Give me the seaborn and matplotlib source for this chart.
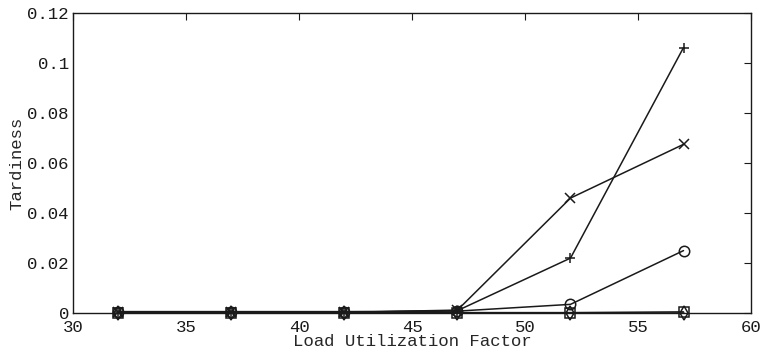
import pandas as pd
import matplotlib
matplotlib.use("Agg")
import matplotlib.pyplot as plt
import seaborn as sns

sns.set_theme(style="white")
plt.rcParams['font.family'] = ['Liberation Mono', 'DejaVu Sans Mono']

# Load utilization factor (x positions)
load = [32, 37, 42, 47, 52, 57]

# Tardiness per series
plus_vals = [0.0003, 0.0003, 0.0003, 0.0010, 0.0220, 0.1062]
cross_vals = [0.0003, 0.0003, 0.0003, 0.0012, 0.0460, 0.0675]
circle_vals = [0.0006, 0.0006, 0.0006, 0.0008, 0.0035, 0.0250]
square_vals = [0.0002, 0.0002, 0.0002, 0.0002, 0.0002, 0.0005]
diamond_vals = [0.0000, 0.0000, 0.0000, 0.0000, 0.0000, 0.0000]

series = {
    "+": plus_vals,
    "x": cross_vals,
    "o": circle_vals,
    "s": square_vals,
    "d": diamond_vals,
}

fig = plt.figure(figsize=(7.62, 3.53), dpi=100)
ax = fig.add_axes([0.096, 0.113, 0.890, 0.850])

for mk, vals in series.items():
    df = pd.DataFrame({"load": load, "tardiness": vals})
    sns.lineplot(data=df, x="load", y="tardiness", ax=ax, color="k",
                 marker=mk, markersize=7.5, mfc="none", mec="k", mew=1.1,
                 linewidth=1.1, clip_on=False)

ax.set_xlim(30, 60)
ax.set_ylim(0, 0.12)
ax.set_xticks([30, 35, 40, 45, 50, 55, 60])
ax.set_yticks([0, 0.02, 0.04, 0.06, 0.08, 0.1, 0.12])
ax.set_yticklabels(["0", "0.02", "0.04", "0.06", "0.08", "0.1", "0.12"])
ax.tick_params(direction="in", top=True, right=True, length=5, width=0.8,
               labelsize=12.5, colors="k")
ax.tick_params(axis="x", pad=5)
ax.tick_params(axis="y", pad=3)
for sp in ax.spines.values():
    sp.set_color("k")
    sp.set_linewidth(1.0)
ax.set_xlabel("Load Utilization Factor", fontsize=12.5, labelpad=-1)
ax.set_ylabel("Tardiness", fontsize=12.5, labelpad=2)

fig.savefig("out.png", dpi=100, facecolor="white")
